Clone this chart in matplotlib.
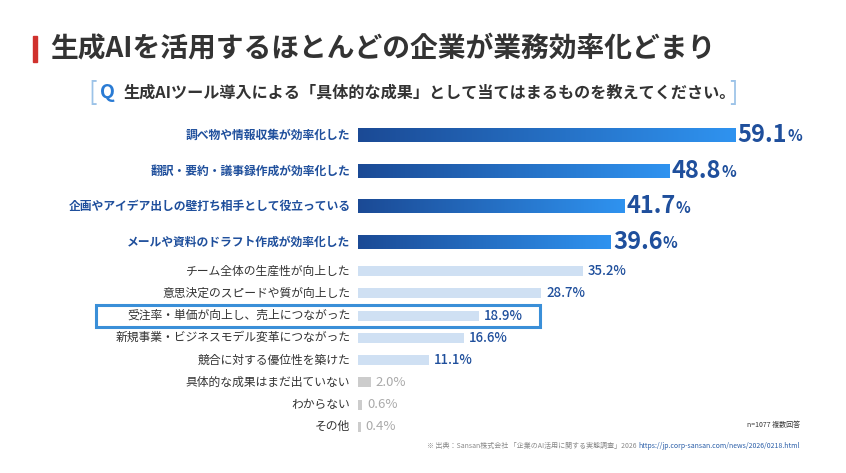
import numpy as np
import matplotlib.pyplot as plt
from matplotlib.patches import Rectangle
from matplotlib.colors import LinearSegmentedColormap

plt.rcParams['font.family'] = ['Noto Sans CJK JP', 'DejaVu Sans']

categories = ['調べ物や情報収集が効率化した', '翻訳・要約・議事録作成が効率化した',
              '企画やアイデア出しの壁打ち相手として役立っている', 'メールや資料のドラフト作成が効率化した',
              'チーム全体の生産性が向上した', '意思決定のスピードや質が向上した',
              '受注率・単価が向上し、売上につながった', '新規事業・ビジネスモデル変革につながった',
              '競合に対する優位性を築けた', '具体的な成果はまだ出ていない', 'わからない', 'その他']
values = [59.1, 48.8, 41.7, 39.6, 35.2, 28.7, 18.9, 16.6, 11.1, 2.0, 0.6, 0.4]
gaps = [1.6, 1.6, 1.6, 1.3, 1, 1, 1, 1, 1, 1, 1]

ypos = np.concatenate([[0], np.cumsum(gaps)])

fig = plt.figure(figsize=(8.46, 4.73), dpi=100)
fig.patch.set_facecolor('white')

# title
fig.patches.append(Rectangle((33/846, 1 - 62/473), 4/846, 26/473, transform=fig.transFigure,
                             color='#d0312d', figure=fig))
fig.text(50/846, 1 - 48/473, '生成AIを活用するほとんどの企業が業務効率化どまり', fontsize=20,
         fontweight='bold', color='#333333', va='center')
fig.text(88/846, 1 - 93/473, '[', fontsize=18, color='#9cc3e8', va='center')
fig.text(100/846, 1 - 93/473, 'Q', fontsize=14, color='#2a7bd4', fontweight='bold', va='center')
fig.text(124/846, 1 - 93/473, '生成AIツール導入による「具体的な成果」として当てはまるものを教えてください。',
         fontsize=11.6, fontweight='bold', color='#333333', va='center')
fig.text(729/846, 1 - 93/473, ']', fontsize=18, color='#9cc3e8', va='center')

ax = fig.add_axes([358/846, 1 - 438/473, 442/846, 314/473])
ax.set_xlim(0, 442 / 6.38)
ax.set_ylim(ypos[-1] + 0.5, -0.5)
ax.axis('off')

grad = np.linspace(0, 1, 256).reshape(1, -1)
cmap = LinearSegmentedColormap.from_list('g', ['#1b4a95', '#2f93f0'])

for i, (cat, v, y) in enumerate(zip(categories, values, ypos)):
    if i < 4:
        h = 0.62
        bar = ax.barh(y, v, height=h, color='none')[0]
        im = ax.imshow(grad, extent=[0, v, y + h / 2, y - h / 2], aspect='auto', cmap=cmap, zorder=2)
        im.set_clip_path(bar)
        ax.text(-1.2, y, cat, ha='right', va='center', fontsize=8.5, fontweight='bold', color='#1f4f9c')
        t = ax.text(v + 0.4, y, f'{v:.1f}', ha='left', va='center', fontsize=17,
                    fontweight='bold', color='#1f4f9c')
        ax.annotate('%', xy=(1, 0.12), xycoords=t, fontsize=11, fontweight='bold',
                    color='#1f4f9c', va='bottom')
    else:
        gray = i >= 9
        ax.barh(y, v, height=0.45, color='#cccccc' if gray else '#cfe0f3')
        ax.text(-1.2, y, cat, ha='right', va='center', fontsize=8.5, color='#333333')
        ax.text(v + 0.8, y, f'{v:.1f}%', ha='left', va='center', fontsize=9.5,
                fontweight='medium' if not gray else 'normal',
                color='#aaaaaa' if gray else '#1f4f9c')

# highlight box
fig.patches.append(Rectangle((96/846, 1 - 327/473), 444/846, 22/473, transform=fig.transFigure,
                             fill=False, edgecolor='#3a8fd8', linewidth=2.2, figure=fig))

fig.text(800/846, 1 - 425/473, 'n=1077 複数回答', fontsize=5, color='#333333', ha='right', va='center')
fig.text(427/846, 1 - 446/473, '※ 出典：Sansan株式会社 「企業のAI活用に関する実態調査」2026', fontsize=5,
         color='#888888', va='center')
fig.text(800/846, 1 - 446/473, 'https://jp.corp-sansan.com/news/2026/0218.html', fontsize=5,
         color='#2a5ea8', va='center', ha='right')

fig.savefig('out.png', dpi=100)
